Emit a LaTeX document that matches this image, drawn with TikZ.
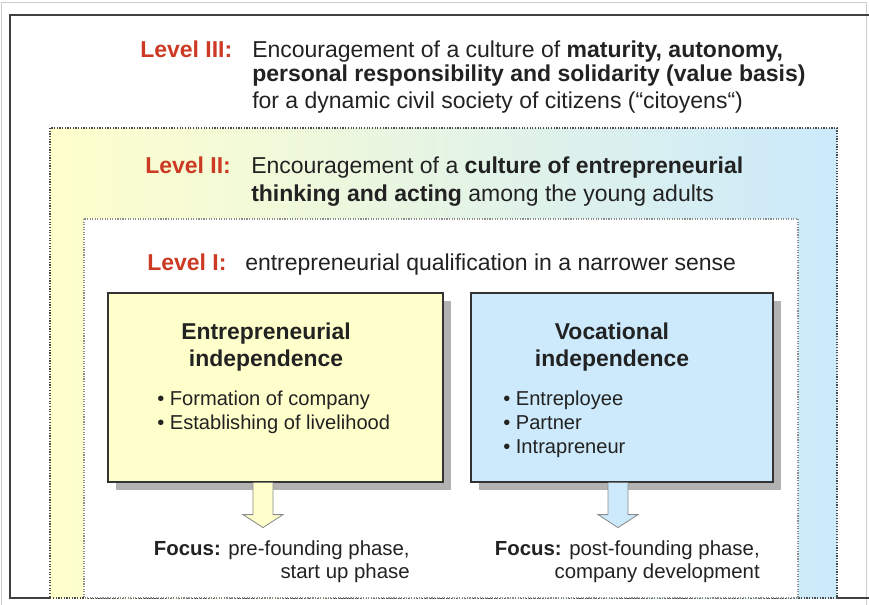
\documentclass[tikz,border=0pt]{standalone}
\usepackage{fontspec}
\setmainfont{Liberation Sans}
\usepackage{tikz}
\usetikzlibrary{calc}
\usetikzlibrary{shadows}
\definecolor{lvlred}{RGB}{204,58,36}
\definecolor{yel}{RGB}{255,255,204}
\definecolor{blu}{RGB}{204,234,252}
\definecolor{txt}{RGB}{34,34,34}

\begin{document}
\begin{tikzpicture}[x=0.025cm,y=-0.025cm,
		every node/.style={inner sep=0pt,text=txt},
		lvl/.style={anchor=base west,text=lvlred,font=\fontsize{16.35}{17}\selectfont\bfseries},
		lvltext/.style={anchor=north west,align=left,font=\fontsize{16.35}{17}\selectfont},
		ebox/.style={draw=black!80,line width=0.8pt,minimum width=8.375cm,minimum height=4.725cm,
			drop shadow={shadow xshift=0.2cm,shadow yshift=-0.2cm,opacity=1,fill=black!30}},
		etitle/.style={anchor=north,align=center,font=\fontsize{16.3}{19.2}\selectfont\bfseries},
		elist/.style={anchor=north west,align=left,font=\fontsize{14.3}{17}\selectfont},
		focus/.style={anchor=north east,align=right,font=\fontsize{14.5}{16.2}\selectfont},
		focusarrow/.style={draw=black!45,line width=0.6pt}
		]
	\useasboundingbox (0,0) rectangle (869,605);
	%%%%%%%%%%%%%%%
	\draw[black!20,line width=0.5pt] (1,605) -- (1,2) -- (866,2) -- (866,605);
	\draw[black!75,line width=1.2pt] (900,15) -- (10,15) -- (10,598) -- (900,598);
	%%%%%%%%%%%%%%%
	\node[lvl] (l3) at (140,57) {Level III:};
	\node[lvltext] (l3text) at (252,40.5) {Encouragement of a culture of \textbf{maturity, autonomy,}\\
		\textbf{personal responsibility and solidarity (value basis)}\\[2pt]
		for a dynamic civil society of citizens (“citoyens“)};
	%%%%%%%%%%%%%%%
	\path[left color=yel,right color=blu,draw=black!70,densely dotted,line width=0.9pt]
		(50,128) rectangle (837,598);
	\node[lvl] (l2) at (145,173) {Level II:};
	\node[lvltext,font=\fontsize{16.35}{20}\selectfont] (l2text) at (251,156.5) {Encouragement of a \textbf{culture of entrepreneurial}\\
		\textbf{thinking and acting} among the young adults};
	%%%%%%%%%%%%%%%
	\path[fill=white,draw=black!45,densely dotted,line width=0.8pt] (84,219) rectangle (798,598);
	\node[lvl] (l1) at (147,270) {Level I:};
	\node[lvltext,anchor=base west] (l1text) at (245,270) {entrepreneurial qualification in a narrower sense};
	%%%%%%%%%%%%%%%
	\node[ebox,fill=yel] (lbox) at (275.5,387.5) {};
	\node[ebox,fill=blu,minimum width=7.55cm] (rbox) at (622,387.5) {};
	\node[etitle] (ltitle) at (266,322.5) {Entrepreneurial\\independence};
	\node[etitle] (rtitle) at (612,322.5) {Vocational\\independence};
	\node[elist] (llist) at (157,391) {\textbullet\ Formation of company\\\textbullet\ Establishing of livelihood};
	\node[elist] (rlist) at (503,391) {\textbullet\ Entreployee\\\textbullet\ Partner\\\textbullet\ Intrapreneur};
	%%%%%%%%%%%%%%%
	\coordinate (la) at (lbox.south -| 263,0);
	\coordinate (ra) at (rbox.south -| 618,0);
	\draw[focusarrow,fill=yel] (la) ++(-10,0) -- ++(0,32) -- ++(-10,0) -- ++(20,13) -- ++(20,-13) -- ++(-10,0) -- ++(0,-32);
	\draw[focusarrow,fill=blu] (ra) ++(-10,0) -- ++(0,32) -- ++(-10,0) -- ++(20,13) -- ++(20,-13) -- ++(-10,0) -- ++(0,-32);
	\node[focus] (lfocus) at (410,540.5) {\textbf{Focus:} pre-founding phase,\\start up phase};
	\node[focus] (rfocus) at (760,540.5) {\textbf{Focus:} post-founding phase,\\company development};
\end{tikzpicture}
\end{document}
